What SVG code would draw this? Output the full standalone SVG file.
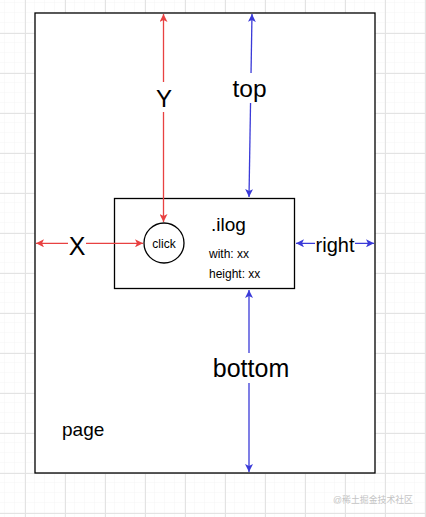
<svg xmlns="http://www.w3.org/2000/svg" width="426" height="517" viewBox="0 0 426 517">
<style>
.lbl{font-family:"Liberation Sans",Arial,sans-serif;fill:#000}
.red{stroke:#e84141;stroke-width:1.3;fill:none}
.blue{stroke:#3a3ad8;stroke-width:1.3;fill:none}
.box{fill:#fff;stroke:#000;stroke-width:1.3}
.bg{fill:#fff}
</style>
<defs>
<pattern id="minor" width="10" height="10" patternUnits="userSpaceOnUse" x="5" y="3">
<path d="M10 0V10M0 10H10" stroke="#f4f4f4" stroke-width="1" fill="none"/>
</pattern>
<pattern id="major" width="40" height="40" patternUnits="userSpaceOnUse" x="25" y="33">
<path d="M0.5 0V40M0 0.5H40" stroke="#e3e3e3" stroke-width="1" fill="none"/>
</pattern>
<marker id="ar" viewBox="0 0 10 10" refX="10" refY="5" markerWidth="8" markerHeight="8" markerUnits="userSpaceOnUse" orient="auto-start-reverse">
<path d="M0 0L10 5L0 10L2.5 5Z" fill="#e84141"/>
</marker>
<marker id="ab" viewBox="0 0 10 10" refX="10" refY="5" markerWidth="8" markerHeight="8" markerUnits="userSpaceOnUse" orient="auto-start-reverse">
<path d="M0 0L10 5L0 10L2.5 5Z" fill="#3a3ad8"/>
</marker>
</defs>
<rect width="426" height="517" fill="#fff"/>
<rect width="426" height="517" fill="url(#minor)"/>
<rect width="426" height="517" fill="url(#major)"/>
<g id="page">
<rect class="box" x="35" y="13" width="340" height="460"/>
<text class="lbl" x="62" y="436" font-size="19">page</text>
</g>
<g id="ilog">
<rect class="box" x="114.5" y="198.5" width="180" height="90"/>
<text class="lbl" x="211" y="231" font-size="19">.ilog</text>
<text class="lbl" x="209" y="258" font-size="12" fill="#222">with: xx</text>
<text class="lbl" x="209" y="278" font-size="12" fill="#222">height: xx</text>
</g>
<g id="click">
<circle cx="164" cy="243" r="20" fill="#fff" stroke="#000" stroke-width="1.3"/>
<text class="lbl" x="164" y="247.5" font-size="12" text-anchor="middle">click</text>
</g>
<g id="connectors">
<line class="red" x1="163.5" y1="14" x2="163.5" y2="222" marker-start="url(#ar)" marker-end="url(#ar)"/>
<rect class="bg" x="154" y="82" width="20" height="30"/>
<text class="lbl" x="164" y="107" font-size="24" text-anchor="middle">Y</text>
<line class="blue" x1="252" y1="14" x2="249" y2="197" marker-start="url(#ab)" marker-end="url(#ab)"/>
<rect class="bg" x="230" y="73" width="40" height="30"/>
<text class="lbl" x="249.5" y="97" font-size="24.5" text-anchor="middle">top</text>
<line class="blue" x1="249" y1="290" x2="249" y2="472" marker-start="url(#ab)" marker-end="url(#ab)"/>
<rect class="bg" x="211" y="353" width="80" height="30"/>
<text class="lbl" x="251" y="377" font-size="25" text-anchor="middle">bottom</text>
<line class="red" x1="36" y1="243.3" x2="143" y2="243.3" marker-start="url(#ar)" marker-end="url(#ar)"/>
<rect class="bg" x="68" y="232" width="18" height="25"/>
<text class="lbl" x="77" y="255" font-size="25" text-anchor="middle">X</text>
<line class="blue" x1="296" y1="243.3" x2="374" y2="243.3" marker-start="url(#ab)" marker-end="url(#ab)"/>
<rect class="bg" x="315" y="235" width="40" height="20"/>
<text class="lbl" x="335" y="251.5" font-size="20" text-anchor="middle">right</text>
</g>
<text x="333" y="503" font-size="9" textLength="80" lengthAdjust="spacingAndGlyphs" fill="#c4c4c4" font-family="'Liberation Sans','Noto Sans CJK SC',sans-serif">@稀土掘金技术社区</text>
</svg>
